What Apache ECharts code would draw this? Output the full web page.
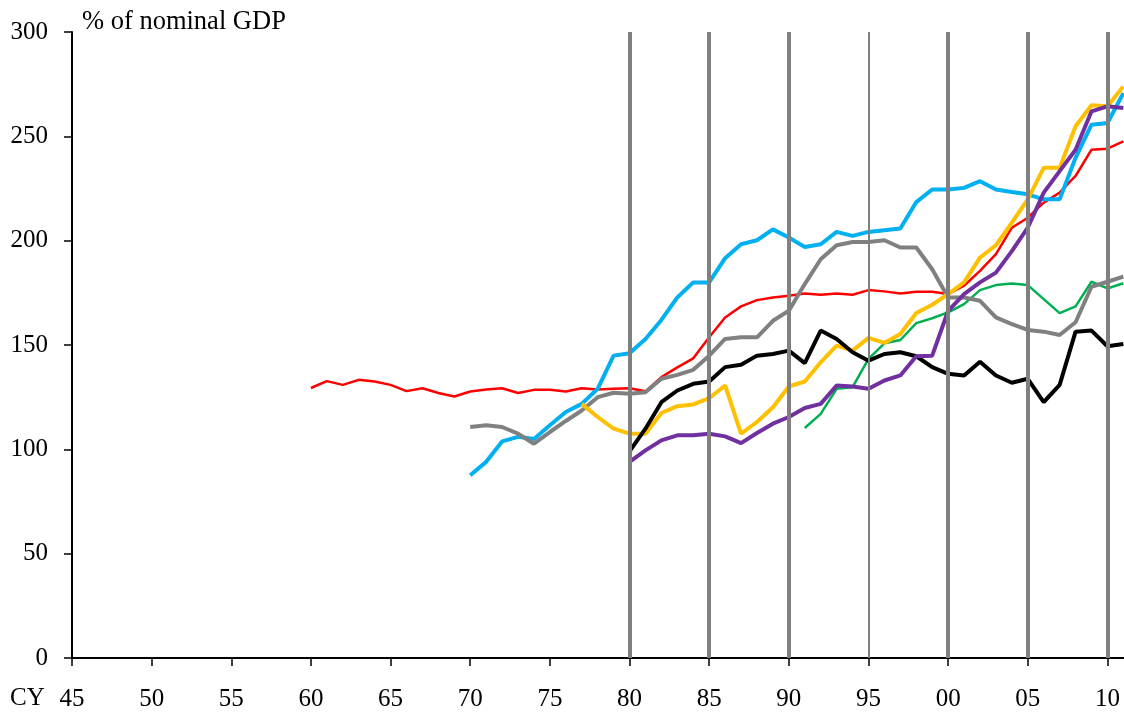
<!DOCTYPE html>
<html>
<head>
<meta charset="utf-8">
<script src="https://cdn.jsdelivr.net/npm/echarts@6/dist/echarts.min.js"></script>
<style>
  html, body { margin: 0; padding: 0; background: #fff; }
  #chart { width: 1124px; height: 712px; }
</style>
</head>
<body>
<div id="chart"></div>
<script>
// values, one per calendar year
const redStart = 1960
const redValues = [129.4, 132.7, 130.9, 133.3, 132.5, 130.9, 127.9, 129.3, 127, 125.3,
  127.7, 128.7, 129.3, 127, 128.5, 128.5, 127.7, 129.3, 128.7, 129,
  129.3, 127.8, 134.6, 139.3, 143.6, 153.7, 163.2, 168.5, 171.5, 172.8,
  173.6, 174.7, 174.1, 174.7, 174.1, 176.3, 175.7, 174.7, 175.5, 175.5,
  174.4, 178.4, 185.5, 193.5, 206.2, 211, 218.2, 223, 231, 243.6,
  244.1, 247.6]
const blueStart = 1970
const blueValues = [87.6, 94, 103.8, 106, 105, 111.5, 117.9, 121.8, 129, 144.9,
  146, 152.9, 162, 172.8, 180, 180, 191.6, 198.3, 200.2, 205.4,
  201.5, 197, 198.3, 204.2, 202.3, 204.2, 205, 205.8, 218.5, 224.5,
  224.5, 225.3, 228.5, 224.5, 223.3, 222.2, 219.8, 219.8, 239.7, 255.6,
  256.4, 270.7]
const grayStart = 1970
const grayValues = [110.7, 111.5, 110.7, 107.5, 102.7, 108.3, 113.6, 118.6, 125, 127.1,
  126.6, 127.4, 133.8, 135.7, 138.1, 144.9, 152.9, 153.7, 153.7, 161.6,
  166.4, 179.2, 191.1, 197.8, 199.4, 199.4, 200.2, 196.7, 196.7, 186.3,
  172.8, 172.8, 171.2, 163.2, 160, 157.2, 156.4, 154.8, 160.9, 177.9,
  180.3, 182.8]
const yellowStart = 1977
const yellowValues = [121.8, 115.5, 109.9,
  107.5, 107.5, 117.4, 120.7, 121.5, 124.5, 130.6, 107.5, 113.1, 120.2,
  130.1, 132.5, 141.7, 149.7, 147.3, 153.4, 151, 155.3, 165.3, 169.3,
  174.4, 180, 191.9, 197.8, 208.6, 219.8, 234.9, 234.9, 254.8, 264.9,
  264.4, 273.9]
const blackStart = 1980
const blackValues = [99, 109.9, 122.6, 128.2, 131.4, 132.5, 139.4, 140.5, 144.9, 145.7,
  147.3, 141.3, 156.9, 152.9, 146.5, 142.5, 145.7, 146.5, 144.6, 139.4,
  136.2, 135.4, 142, 135.4, 131.9, 133.8, 122.6, 130.9, 156.4, 156.9,
  149.4, 150.5]
const purpleStart = 1980
const purpleValues = [94, 99.5, 104.3, 106.7, 106.7, 107.5, 106.2, 103, 107.8, 112.3,
  115.5, 119.8, 121.8, 130.6, 130.1, 129, 133, 135.4, 144.6, 144.9,
  166.4, 174.4, 180, 184.7, 195, 206.2, 223, 233.3, 243.6, 262,
  264.4, 263.6]
const greenStart = 1991
const greenValues = [110.2, 117, 129, 129.8, 143.3, 150.8, 152.4, 160.5, 162.8,
  165.6, 169.6, 176.3, 178.7, 179.5, 178.7, 172, 165.3, 168.5, 180.3,
  177.1, 179.6]
const xTicks = [1945, 1950, 1955, 1960, 1965, 1970, 1975, 1980, 1985, 1990, 1995, 2000, 2005, 2010]
const markerYears = [1980, 1985, 1990, 1995, 2000, 2005, 2010]

const font = 'Liberation Serif'

function pairs(start, values) {
  return values.map((v, i) => [start + i, v])
}

function line(name, color, width, start, values) {
  return {
    name: name,
    type: 'line',
    z: 3,
    showSymbol: false,
    symbol: 'none',
    lineStyle: { color: color, width: width },
    data: pairs(start, values)
  }
}

const chart = echarts.init(document.getElementById('chart'))
chart.setOption({
  animation: false,
  backgroundColor: '#fff',
  title: {
    text: '% of nominal GDP',
    left: 82,
    top: 9,
    padding: 0,
    textStyle: { fontFamily: font, fontSize: 26.5, fontWeight: 'normal', color: '#000' }
  },
  graphic: [
    {
      type: 'text',
      left: 10,
      top: 686,
      style: { text: 'CY', font: '25px ' + font, fill: '#000' }
    }
  ],
  grid: { left: 72, right: 0, top: 32, bottom: 52, containLabel: false },
  xAxis: {
    type: 'value',
    min: 1945,
    max: 2011.04,
    interval: 5,
    splitLine: { show: false },
    axisLine: { lineStyle: { color: '#000', width: 2 } },
    axisTick: {
      inside: false,
      length: 8,
      customValues: xTicks,
      lineStyle: { color: '#000', width: 1.5 }
    },
    axisLabel: {
      margin: 29,
      customValues: xTicks,
      fontFamily: font,
      fontSize: 25,
      color: '#000',
      formatter: function (v) {
        return String(Math.round(v) % 100).padStart(2, '0')
      }
    }
  },
  yAxis: {
    type: 'value',
    min: 0,
    max: 300,
    interval: 50,
    splitLine: { show: false },
    axisLine: { show: true, lineStyle: { color: '#000', width: 2 } },
    axisTick: { show: true, inside: false, length: 8, lineStyle: { color: '#000', width: 1.5 } },
    axisLabel: { margin: 24, fontFamily: font, fontSize: 25, color: '#000' }
  },
  series: [
    {
      name: 'markers',
      type: 'line',
      z: 1,
      data: [],
      markLine: {
        silent: true,
        symbol: 'none',
        animation: false,
        label: { show: false },
        data: markerYears.map(y => ({
          xAxis: y,
          lineStyle: { color: '#808080', type: 'solid', width: y === 1995 ? 2 : 4 }
        }))
      }
    },
    line('red', '#ff0000', 2.5, redStart, redValues),
    line('green', '#00b050', 2.5, greenStart, greenValues),
    line('blue', '#00b0f0', 4, blueStart, blueValues),
    line('gray', '#808080', 4, grayStart, grayValues),
    line('yellow', '#ffc000', 4, yellowStart, yellowValues),
    line('black', '#000000', 4, blackStart, blackValues),
    line('purple', '#7030a0', 4, purpleStart, purpleValues)
  ]
})
</script>
</body>
</html>
